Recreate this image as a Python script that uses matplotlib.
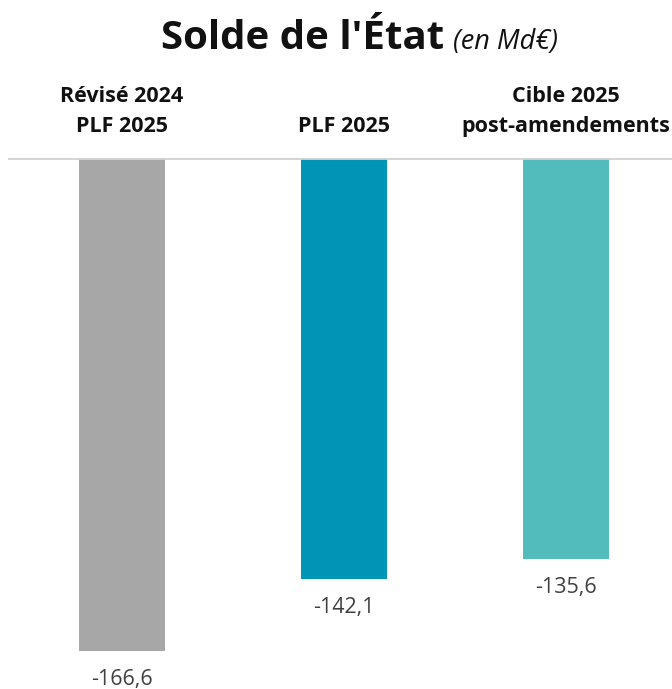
import matplotlib.pyplot as plt

categories = ["Révisé 2024\nPLF 2025", "PLF 2025", "Cible 2025\npost-amendements"]
values = [-166.6, -142.1, -135.6]
value_labels = ["-166,6", "-142,1", "-135,6"]
colors = ["#A7A7A7", "#0095B6", "#52BCBD"]

W, H = 672, 689
fig = plt.figure(figsize=(W / 100, H / 100), dpi=100)

# axes area: from the baseline (y=158 px) down to the bottom edge
ax = fig.add_axes([8 / W, 0, 664 / W, (H - 158) / H])
x = list(range(len(values)))
ax.bar(x, values, width=0.39, color=colors, zorder=2)
ax.set_xlim(-0.514, 2.477)
ax.set_ylim(-179.4, 0)
ax.axhline(0, color="#D3D3D3", lw=2, zorder=3)
ax.axis("off")

for xi, v, lab in zip(x, values, value_labels):
    ax.annotate(lab, (xi, v), xytext=(0, -13), textcoords="offset points",
                ha="center", va="top", fontsize=15.5, color="#404040",
                family="Open Sans")

# category labels above the baseline
for xi, cat in zip(x, categories):
    ax.annotate(cat, (xi, 0), xytext=(0, 15), textcoords="offset points",
                ha="center", va="bottom", fontsize=15.5, fontweight="bold",
                color="#111111", family="Open Sans", linespacing=1.55,
                annotation_clip=False)

fig.text(444 / W, 1 - 49 / H, "Solde de l'État", ha="right", va="baseline",
         fontsize=29, fontweight="bold", family="Open Sans", color="#111111")
fig.text(453 / W, 1 - 49 / H, "(en Md€)", ha="left", va="baseline",
         fontsize=19.5, style="italic", family="Open Sans", color="#111111")

fig.savefig("out.png", dpi=100)
